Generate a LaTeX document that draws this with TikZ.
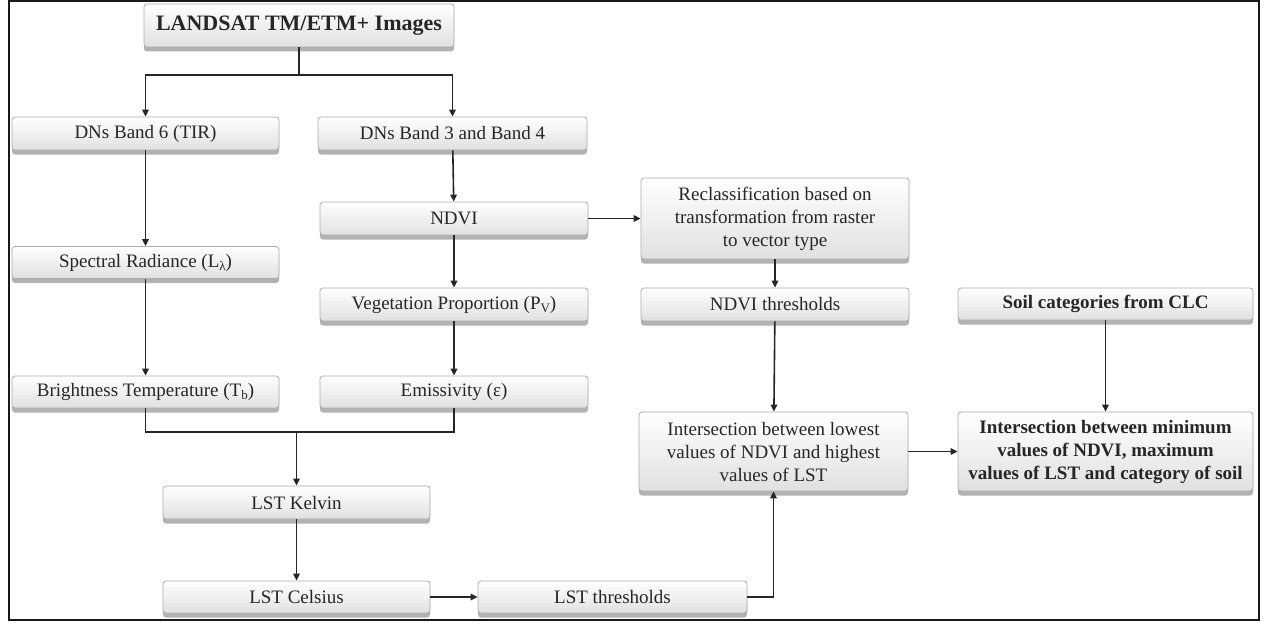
\documentclass[tikz,border=0pt]{standalone}
\usepackage{fontspec}
\setmainfont{Liberation Serif}
\usetikzlibrary{arrows.meta,shadows,calc}
\newcommand\sbs[1]{\raisebox{-0.35ex}{\fontsize{13}{13}\selectfont #1}}
\begin{document}
\begin{tikzpicture}[x=1pt,y=-1pt,
  box/.style={draw=gray!65,line width=0.8pt,rounded corners=3pt,top color=white,bottom color=gray!24,
    drop shadow={shadow xshift=0pt,shadow yshift=-4.5pt,fill=gray!60,opacity=1},
    text=black!85,font=\fontsize{19}{23}\selectfont,inner sep=2pt,align=center,minimum height=33pt},
  bbox/.style={box,font=\fontsize{19}{23}\selectfont\bfseries},
  conn/.style={draw=black!85,line width=1.6pt},
  arr/.style={conn,-{Triangle[length=7pt,width=6.5pt]}}]
\useasboundingbox (0,0) rectangle (1265,623);
\draw[line width=2pt,black!90] (9,1) rectangle (1259,620);
% nodes
\node[bbox,minimum width=310pt,minimum height=43pt,font=\fontsize{22}{26}\selectfont\bfseries] (top) at (299,25.5) {LANDSAT TM/ETM+ Images};
\node[box,minimum width=267pt] (b6) at (145.5,133.5) {DNs Band 6 (TIR)};
\node[box,minimum width=269pt] (b34) at (452.5,133.5) {DNs Band 3 and Band 4};
\node[box,minimum width=267pt,minimum height=32pt] (spec) at (145.5,262.5) {Spectral Radiance (L\sbs{λ})};
\node[box,minimum width=268pt] (ndvi) at (454,218.5) {NDVI};
\node[box,minimum width=268pt] (veg) at (454,304.5) {Vegetation Proportion (P\sbs{V})};
\node[box,minimum width=267pt,minimum height=32pt] (bright) at (145.5,392) {Brightness Temperature (T\sbs{b})};
\node[box,minimum width=268pt,minimum height=32pt] (emis) at (454,392) {Emissivity (ε)};
\node[box,minimum width=267pt] (kelvin) at (296.5,502.5) {LST Kelvin};
\node[box,minimum width=267pt,minimum height=32pt] (celsius) at (296.5,597) {LST Celsius};
\node[box,minimum width=269pt,minimum height=32pt] (lstthr) at (612.5,597) {LST thresholds};
\node[box,minimum width=268pt,minimum height=81pt] (reclass) at (775,218.5) {Reclassification based on\\transformation from raster\\to vector type};
\node[box,minimum width=268pt] (ndvithr) at (775,304.5) {NDVI thresholds};
\node[box,minimum width=269pt,minimum height=79pt] (inter) at (773.5,451.5) {Intersection between lowest\\values of NDVI and highest\\values of LST};
\node[bbox,minimum width=295pt,minimum height=32pt] (soil) at (1105.5,304) {Soil categories from CLC};
\node[bbox,minimum width=295pt,minimum height=79pt] (final) at (1105.5,451.5) {Intersection between minimum\\values of NDVI, maximum\\values of LST and category of soil};
% connectors
\coordinate (split) at (299,75);
\draw[conn] (top.south) -- (split);
\draw[arr] (split) -| (b6.north);
\draw[arr] (split) -| (b34.north);
\draw[arr] (b6) -- (spec);
\draw[arr] (spec) -- (bright);
\draw[arr] (b34) -- (ndvi);
\draw[arr] (ndvi) -- (veg);
\draw[arr] (veg) -- (emis);
\draw[arr] (ndvi) -- (reclass);
\coordinate (merge) at (296.5,432);
\draw[conn] (bright.south) |- (merge) -| (emis.south);
\draw[arr] (merge) -- (kelvin.north);
\draw[arr] (kelvin) -- (celsius);
\draw[arr] (celsius) -- (lstthr);
\draw[arr] (lstthr.east) -| (inter.south);
\draw[arr] (reclass) -- (ndvithr);
\draw[arr] (ndvithr) -- (inter);
\draw[arr] (inter) -- (final);
\draw[arr] (soil) -- (final);
\end{tikzpicture}
\end{document}
